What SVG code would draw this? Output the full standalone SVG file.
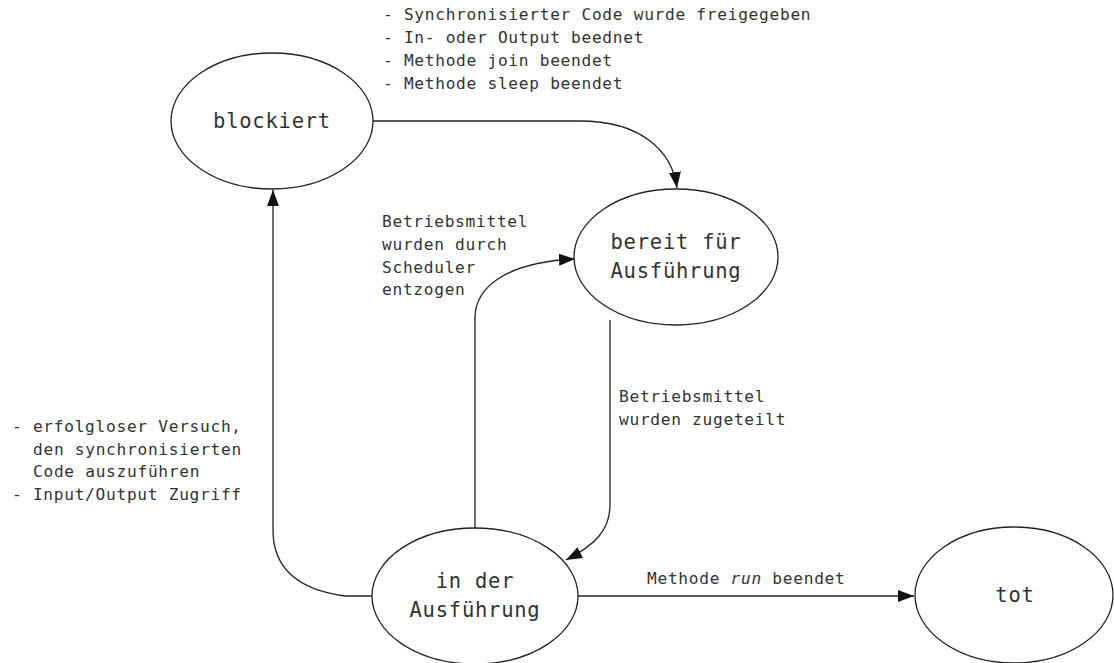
<svg xmlns="http://www.w3.org/2000/svg" width="1114" height="663" viewBox="0 0 1114 663">
<style>
.node ellipse{fill:#fff;stroke:#222;stroke-width:1.3}
.lbl{font-family:"DejaVu Sans Mono","Liberation Mono",monospace;font-size:20.5px;letter-spacing:0.75px;fill:#333;text-anchor:middle}
.ann{font-family:"DejaVu Sans Mono","Liberation Mono",monospace;font-size:16.2px;letter-spacing:0.7px;fill:#333}
.edge{fill:none;stroke:#222;stroke-width:1.3}
</style>
<defs>
<marker id="arr" markerUnits="userSpaceOnUse" markerWidth="16" markerHeight="12" viewBox="0 0 16 12" refX="16" refY="6" orient="auto">
<path d="M0,0 L16,6 L0,12 Z" fill="#111"/>
</marker>
</defs>
<rect width="1114" height="663" fill="#fff"/>
<g id="connectors">
<path class="edge" d="M373,121 L580,121 C640,121 672,150 677,188" marker-end="url(#arr)"/>
<path class="edge" d="M372,596 L345,596 C300,590 273,570 273,530 L273,190" marker-end="url(#arr)"/>
<path class="edge" d="M475,528 L475,318 C475,285 510,262 575,259" marker-end="url(#arr)"/>
<path class="edge" d="M610,320 L610,505 C610,530 595,545 566,560" marker-end="url(#arr)"/>
<path class="edge" d="M578,596 L914,596" marker-end="url(#arr)"/>
</g>
<g id="n-blockiert" class="node">
<ellipse cx="272" cy="121" rx="101" ry="68"/>
<text class="lbl" x="272" y="128">blockiert</text>
</g>
<g id="n-bereit" class="node">
<ellipse cx="676" cy="257" rx="102" ry="68"/>
<text class="lbl" x="676" y="249">bereit für</text>
<text class="lbl" x="676" y="278">Ausführung</text>
</g>
<g id="n-ausfuehrung" class="node">
<ellipse cx="475" cy="596" rx="103" ry="68"/>
<text class="lbl" x="475" y="588">in der</text>
<text class="lbl" x="475" y="617">Ausführung</text>
</g>
<g id="n-tot" class="node">
<ellipse cx="1014" cy="595" rx="99" ry="68"/>
<text class="lbl" x="1015" y="602">tot</text>
</g>
<g id="labels">
<text class="ann" x="383" y="20">- Synchronisierter Code wurde freigegeben</text>
<text class="ann" x="383" y="43">- In- oder Output beednet</text>
<text class="ann" x="383" y="66">- Methode join beendet</text>
<text class="ann" x="383" y="89">- Methode sleep beendet</text>
<text class="ann" x="382" y="227">Betriebsmittel</text>
<text class="ann" x="382" y="250">wurden durch</text>
<text class="ann" x="382" y="273">Scheduler</text>
<text class="ann" x="382" y="295">entzogen</text>
<text class="ann" x="619" y="402">Betriebsmittel</text>
<text class="ann" x="619" y="425">wurden zugeteilt</text>
<text class="ann" x="12" y="432">- erfolgloser Versuch,</text>
<text class="ann" x="33" y="455">den synchronisierten</text>
<text class="ann" x="33" y="477">Code auszuführen</text>
<text class="ann" x="12" y="500">- Input/Output Zugriff</text>
<text class="ann" x="647" y="584">Methode <tspan font-style="italic">run</tspan> beendet</text>
</g>
</svg>
